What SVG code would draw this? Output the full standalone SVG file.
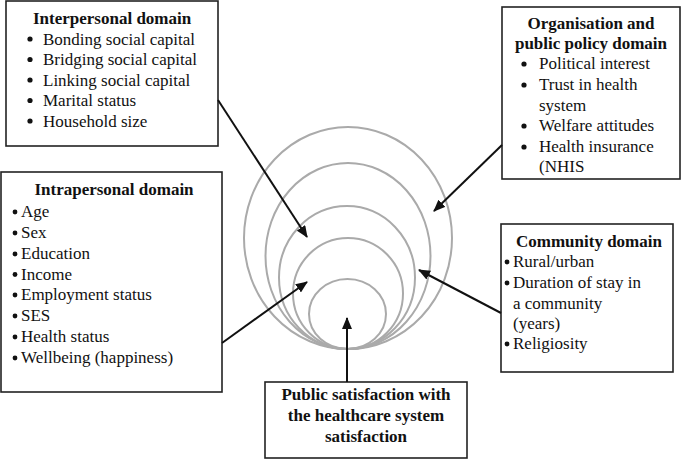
<svg xmlns="http://www.w3.org/2000/svg" width="685" height="459" viewBox="0 0 685 459">
<defs>
<style>
.box{fill:#fff;stroke:#222;stroke-width:1.6}
.t{font-family:'Liberation Serif','DejaVu Serif',serif;font-size:17px;fill:#111}
.b{font-weight:bold}
.c{text-anchor:middle}
.dot{fill:#111}
.ring{fill:none;stroke:#aaa;stroke-width:2}
.arr{stroke:#111;stroke-width:2;fill:none;marker-end:url(#ah)}
</style>
<marker id="ah" viewBox="0 0 12 10" refX="11" refY="5" markerWidth="12" markerHeight="10" markerUnits="userSpaceOnUse" orient="auto">
<path d="M0,0 L12,5 L0,10 Z" fill="#111"/>
</marker>
</defs>
<rect width="685" height="459" fill="#fff"/>
<g id="rings">
<ellipse class="ring" cx="348" cy="238" rx="104" ry="111"/>
<ellipse class="ring" cx="348" cy="256" rx="82.5" ry="93"/>
<ellipse class="ring" cx="347" cy="277.5" rx="68" ry="71.5"/>
<ellipse class="ring" cx="348" cy="293.5" rx="55" ry="55.5"/>
<ellipse class="ring" cx="347.5" cy="314" rx="38.5" ry="35"/>
</g>
<g id="interpersonal">
<rect class="box" x="6" y="1" width="212" height="145"/>
<text class="t b" x="33" y="24" font-family="Liberation Serif">Interpersonal domain</text>
<circle class="dot" cx="30" cy="39" r="2.6"/><text class="t" x="43" y="44.5">Bonding social capital</text>
<circle class="dot" cx="30" cy="59.5" r="2.6"/><text class="t" x="43" y="65">Bridging social capital</text>
<circle class="dot" cx="30" cy="80" r="2.6"/><text class="t" x="43" y="85.5">Linking social capital</text>
<circle class="dot" cx="30" cy="100.5" r="2.6"/><text class="t" x="43" y="106">Marital status</text>
<circle class="dot" cx="30" cy="121" r="2.6"/><text class="t" x="43" y="126.5">Household size</text>
</g>
<g id="intrapersonal">
<rect class="box" x="1" y="172" width="221" height="220"/>
<text class="t b c" x="114" y="195">Intrapersonal domain</text>
<circle class="dot" cx="15" cy="212" r="2.4"/><text class="t" x="21" y="217">Age</text>
<circle class="dot" cx="15" cy="233" r="2.4"/><text class="t" x="21" y="238">Sex</text>
<circle class="dot" cx="15" cy="254" r="2.4"/><text class="t" x="21" y="259">Education</text>
<circle class="dot" cx="15" cy="274.5" r="2.4"/><text class="t" x="21" y="279.5">Income</text>
<circle class="dot" cx="15" cy="295" r="2.4"/><text class="t" x="21" y="300">Employment status</text>
<circle class="dot" cx="15" cy="316" r="2.4"/><text class="t" x="21" y="321">SES</text>
<circle class="dot" cx="15" cy="337" r="2.4"/><text class="t" x="21" y="342">Health status</text>
<circle class="dot" cx="15" cy="358" r="2.4"/><text class="t" x="21" y="363">Wellbeing (happiness)</text>
</g>
<g id="organisation">
<rect class="box" x="502" y="7" width="178" height="172"/>
<text class="t b c" x="591" y="29">Organisation and</text>
<text class="t b c" x="591" y="49">public policy domain</text>
<circle class="dot" cx="524" cy="64" r="2.6"/><text class="t" x="539" y="69">Political interest</text>
<circle class="dot" cx="524" cy="85" r="2.6"/><text class="t" x="539" y="90">Trust in health</text>
<text class="t" x="539" y="111">system</text>
<circle class="dot" cx="524" cy="126" r="2.6"/><text class="t" x="539" y="131">Welfare attitudes</text>
<circle class="dot" cx="524" cy="147" r="2.6"/><text class="t" x="539" y="152">Health insurance</text>
<text class="t" x="539" y="172">(NHIS</text>
</g>
<g id="community">
<rect class="box" x="501" y="224" width="172" height="148"/>
<text class="t b" x="516" y="247">Community domain</text>
<circle class="dot" cx="507" cy="262" r="2.4"/><text class="t" x="513" y="267">Rural/urban</text>
<circle class="dot" cx="507" cy="283" r="2.4"/><text class="t" x="513" y="288">Duration of stay in</text>
<text class="t" x="513" y="309">a community</text>
<text class="t" x="513" y="329">(years)</text>
<circle class="dot" cx="507" cy="344" r="2.4"/><text class="t" x="513" y="349">Religiosity</text>
</g>
<g id="outcome">
<rect class="box" x="265" y="382" width="202" height="76"/>
<text class="t b c" x="366" y="400">Public satisfaction with</text>
<text class="t b c" x="366" y="421">the healthcare system</text>
<text class="t b c" x="366" y="442">satisfaction</text>
</g>
<g id="connectors">
<line class="arr" x1="218" y1="100" x2="307" y2="237"/>
<line class="arr" x1="502" y1="145" x2="434" y2="211"/>
<line class="arr" x1="222" y1="343" x2="307" y2="282"/>
<line class="arr" x1="501" y1="313" x2="419" y2="270"/>
<line class="arr" x1="347" y1="382" x2="347" y2="318"/>
</g>
</svg>
